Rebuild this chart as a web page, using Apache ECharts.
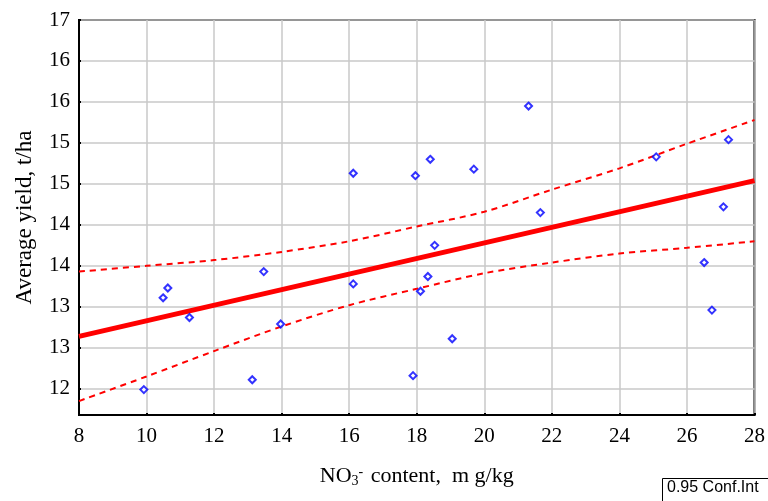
<!DOCTYPE html>
<html>
<head>
<meta charset="utf-8">
<script src="https://cdn.jsdelivr.net/npm/echarts@6/dist/echarts.min.js"></script>
<style>
  html, body { margin: 0; padding: 0; background: #fff; }
  #main { width: 768px; height: 501px; }
</style>
</head>
<body>
<div id="main"></div>
<script>
// NO3- content (mg/kg) vs average yield (t/ha)
var nitrate = [9.92, 10.49, 10.63, 11.27, 13.13, 13.47, 13.97, 16.12, 16.12, 17.96, 18.11, 17.89,
               18.33, 18.40, 18.53, 19.05, 19.69, 21.31, 21.66, 25.09, 26.74, 26.51, 27.08, 27.23];
var yieldVals = [11.99, 13.11, 13.23, 12.87, 12.11, 13.43, 12.79, 13.28, 14.63, 14.60, 13.19, 12.16,
                 13.37, 14.80, 13.75, 12.61, 14.68, 15.45, 14.15, 14.83, 12.96, 13.54, 14.22, 15.04];

// fitted line ends
var fitX = [8, 28];
var fitY = [12.64, 14.54];

// 0.95 confidence band, read at each x tick
var bandX = [8, 10, 12, 14, 16, 18, 20, 22, 24, 26, 28];
var upperY = [13.43, 13.50, 13.57, 13.67, 13.80, 13.98, 14.16, 14.43, 14.69, 14.99, 15.28];
var lowerY = [11.85, 12.15, 12.46, 12.76, 13.02, 13.22, 13.41, 13.54, 13.65, 13.72, 13.80];

var yTicks = [12, 12.5, 13, 13.5, 14, 14.5, 15, 15.5, 16, 16.5];

function pairs(xs, ys) {
    var out = [];
    for (var i = 0; i < xs.length; i++) {
        out.push([xs[i], ys[i]]);
    }
    return out;
}

var myChart = echarts.init(document.getElementById('main'));
var serif = 'Liberation Serif';

var option = {
    animation: false,
    grid: {
        left: 79,
        right: 11,
        top: 20,
        bottom: 86,
        show: true,
        borderColor: '#000',
        borderWidth: 2
    },
    xAxis: {
        type: 'value',
        min: 8,
        max: 28,
        interval: 2,
        name: '{n|NO}{s|3}{p|-}{n| content,  m g/kg}',
        nameLocation: 'middle',
        nameGap: 50,
        nameTextStyle: {
            rich: {
                n: { fontFamily: serif, fontSize: 22, color: '#000' },
                s: { fontFamily: serif, fontSize: 14, color: '#000', verticalAlign: 'bottom', padding: [9, 0, 0, 0] },
                p: { fontFamily: serif, fontSize: 14, color: '#000', verticalAlign: 'top', padding: [0, 2, 8, 0] }
            }
        },
        axisLine: { show: true, lineStyle: { color: '#000', width: 2 } },
        axisTick: { show: true, inside: true, length: 2, lineStyle: { color: '#000', width: 2 } },
        axisLabel: { fontFamily: serif, fontSize: 21, color: '#000', margin: 11 },
        splitLine: { show: true, lineStyle: { color: '#c8c8c8', width: 1.5 } }
    },
    yAxis: {
        type: 'value',
        min: 11.68,
        max: 16.5,
        name: 'Average yield, t/ha',
        nameLocation: 'middle',
        nameGap: 43,
        nameTextStyle: { fontFamily: serif, fontSize: 23, color: '#000' },
        axisLine: { show: true, lineStyle: { color: '#000', width: 2 } },
        axisTick: {
            show: true, inside: true, length: 2,
            customValues: yTicks,
            lineStyle: { color: '#000', width: 2 }
        },
        axisLabel: {
            fontFamily: serif, fontSize: 21, color: '#000', margin: 9,
            customValues: yTicks,
            formatter: function (v) { return Math.round(v + 1e-9); }
        },
        splitLine: { show: true, lineStyle: { color: '#c8c8c8', width: 1.5 } }
    },
    series: [
        {
            name: 'upper',
            type: 'line',
            data: pairs(bandX, upperY),
            showSymbol: false,
            smooth: 0.3,
            lineStyle: { color: '#ff0000', width: 2, type: [6, 5] },
            z: 3
        },
        {
            name: 'lower',
            type: 'line',
            data: pairs(bandX, lowerY),
            showSymbol: false,
            smooth: 0.3,
            lineStyle: { color: '#ff0000', width: 2, type: [6, 5] },
            z: 3
        },
        {
            name: 'fit',
            type: 'line',
            data: pairs(fitX, fitY),
            showSymbol: false,
            lineStyle: { color: '#ff0000', width: 5 },
            z: 4
        },
        {
            name: 'data',
            type: 'scatter',
            data: pairs(nitrate, yieldVals),
            symbol: 'diamond',
            symbolSize: 7,
            itemStyle: { color: '#fff', borderColor: '#0000ff', borderWidth: 2 },
            z: 5
        }
    ],
    graphic: [
        {
            type: 'rect',
            left: 662,
            top: 478,
            shape: { width: 110, height: 24 },
            style: { fill: '#fff', stroke: '#000', lineWidth: 1 }
        },
        {
            type: 'text',
            left: 667,
            top: 480,
            style: { text: '0.95 Conf.Int', fontFamily: 'Liberation Sans', fontSize: 16, fill: '#000' }
        }
    ]
};

myChart.setOption(option);
</script>
</body>
</html>
